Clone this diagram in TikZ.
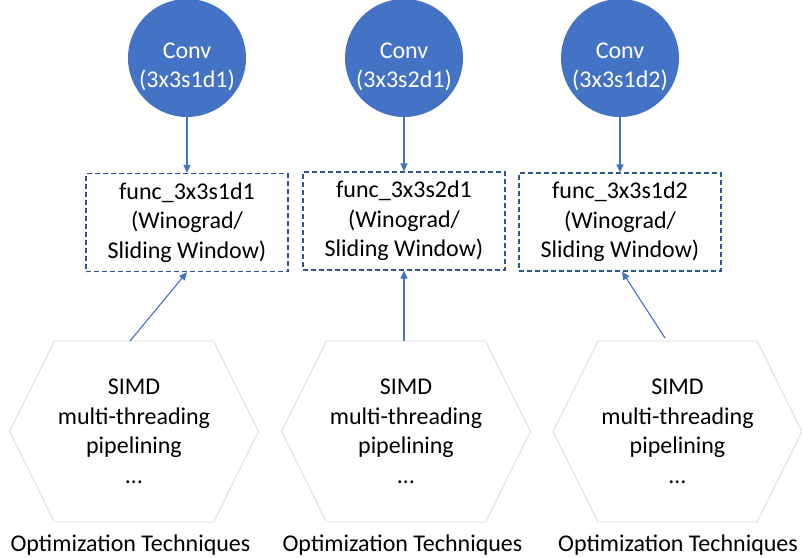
\documentclass[tikz,border=0pt]{standalone}
\usepackage{fontspec}
\setmainfont{Carlito}
\usetikzlibrary{arrows.meta,calc}
\definecolor{convblue}{HTML}{4472C4}
\definecolor{boxblue}{HTML}{2F5597}
\definecolor{hexgray}{HTML}{D9D9D9}
\begin{document}
\begin{tikzpicture}[x=1pt,y=-1pt,
  every node/.style={font=\fontsize{24}{29.5}\selectfont, inner sep=0pt},
  conv/.style={circle, fill=convblue, minimum size=118pt},
  convtext/.style={text=white, align=center},
  funcbox/.style={draw=boxblue, line width=1.2pt, dash pattern=on 5pt off 3pt,
                  minimum width=202pt, minimum height=98pt, align=center},
  hexline/.style={draw=hexgray, line width=0.8pt},
  techtext/.style={align=center},
  link/.style={draw=convblue, line width=1.1pt, -{Triangle[length=8pt,width=7pt]}}
]
\useasboundingbox (0,0) rectangle (802,557);

% convolution operators
\node[conv] (c1) at (187,58) {};
\node[conv] (c2) at (404,58) {};
\node[conv] (c3) at (620,58) {};
\node[convtext] (c1t) at (187,67) {Conv\\(3x3s1d1)};
\node[convtext] (c2t) at (404,67) {Conv\\(3x3s2d1)};
\node[convtext] (c3t) at (620,67) {Conv\\(3x3s1d2)};

% kernel implementations
\node[funcbox] (b1) at (187,222.5) {func\_3x3s1d1\\(Winograd/\\Sliding Window)};
\node[funcbox] (b2) at (404,221) {func\_3x3s2d1\\(Winograd/\\Sliding Window)};
\node[funcbox] (b3) at (620,222) {func\_3x3s1d2\\(Winograd/\\Sliding Window)};

% optimization techniques (hexagons)
\node[techtext] (h1) at (134,431.5) {SIMD\\multi-threading\\pipelining\\\ldots};
\node[techtext] (h2) at (406,431.5) {SIMD\\multi-threading\\pipelining\\\ldots};
\node[techtext] (h3) at (677.5,431.5) {SIMD\\multi-threading\\pipelining\\\ldots};
\foreach \h in {h1,h2,h3}{
  \draw[hexline] ($(\h)+(-124.5,0)$) -- ($(\h)+(-79.5,-90.5)$) -- ($(\h)+(79.5,-90.5)$)
    -- ($(\h)+(124.5,0)$) -- ($(\h)+(79.5,90.5)$) -- ($(\h)+(-79.5,90.5)$) -- cycle;
}
\node (o1) at (130.5,545) {Optimization Techniques};
\node (o2) at (402.5,545) {Optimization Techniques};
\node (o3) at (678,545) {Optimization Techniques};

% arrow start points on the hexagon tops
\coordinate (t1) at (130,341);
\coordinate (t2) at (404,341);
\coordinate (t3) at (665,338);

% connectors
\draw[link] (c1) -- (b1);
\draw[link] (c2) -- (b2);
\draw[link] (c3) -- (b3);
\draw[link] (t1) -- (b1.south);
\draw[link] (t2) -- (b2.south);
\draw[link] (t3) -- ($(b3.south)+(2,0)$);
\end{tikzpicture}
\end{document}
